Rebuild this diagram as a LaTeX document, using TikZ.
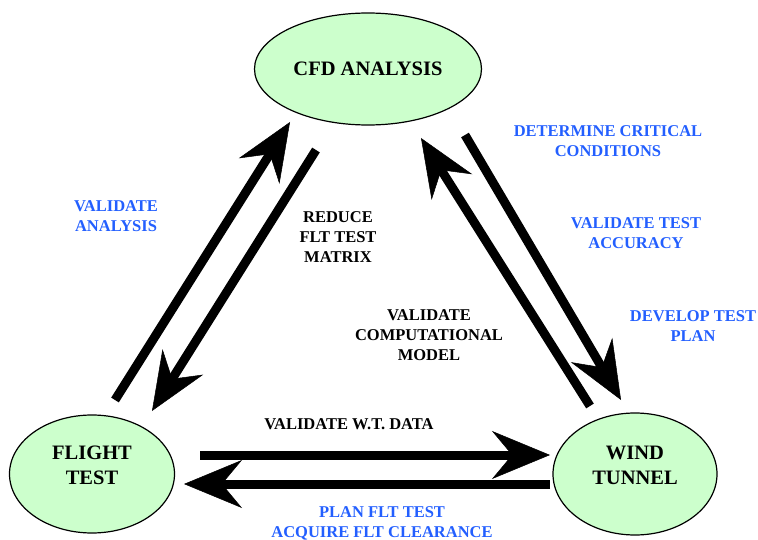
\documentclass[tikz,border=0pt]{standalone}
\usepackage{fontspec}
\setmainfont{Liberation Serif}
\usetikzlibrary{arrows.meta,shapes.geometric}
\definecolor{boxgreen}{RGB}{204,255,204}
\definecolor{noteblue}{RGB}{35,95,255}
\newcommand{\stationtext}[1]{\raisebox{7pt}[\height][\depth]{\begin{tabular}{@{}c@{}}#1\end{tabular}}}

\begin{document}
\begin{tikzpicture}[x=1pt,y=-1pt,
	loopbox/.style={ellipse,draw,line width=1.2pt,fill=boxgreen,inner sep=0pt,align=center,font=\fontsize{20.5}{25}\selectfont\bfseries},
	flow/.style={line width=9pt,-{Stealth[length=58pt,width=48pt,inset=20pt,line width=0.5pt]}},
	note/.style={align=center,font=\fontsize{16.5}{20}\selectfont\bfseries}]
	\useasboundingbox (0,0) rectangle (758,540);
	% the three stations
	\node[loopbox,minimum width=227pt,minimum height=112pt] at (368,69)(cfd){CFD ANALYSIS};
	\node[loopbox,minimum width=165pt,minimum height=118pt] at (92,474)(ft){\stationtext{FLIGHT\\TEST}};
	\node[loopbox,minimum width=164pt,minimum height=122pt] at (635,474)(wt){\stationtext{WIND\\TUNNEL}};
	% arrows between them
	\draw[flow] ([shift={(23,-74)}]ft.center) -- ([shift={(-78,53)}]cfd.center);
	\draw[flow] ([shift={(-52,81)}]cfd.center) -- ([shift={(60,-63)}]ft.center);
	\draw[flow] ([shift={(-45,-68)}]wt.center) -- ([shift={(53,69)}]cfd.center);
	\draw[flow] ([shift={(97,66)}]cfd.center) -- ([shift={(-14,-74)}]wt.center);
	\draw[flow] ([shift={(108,-19)}]ft.center) -- ([shift={(-85,-19)}]wt.center);
	\draw[flow] ([shift={(-85,10)}]wt.center) -- ([shift={(92,10)}]ft.center);
	% labels
	\node[note,text=noteblue] at (116,216)(valan){VALIDATE\\ANALYSIS};
	\node[note] at (338,237)(reduce){REDUCE\\FLT TEST\\MATRIX};
	\node[note] at (429,335)(valcomp){VALIDATE\\COMPUTATIONAL\\MODEL};
	\node[note,text=noteblue] at (608,141)(determ){DETERMINE CRITICAL\\CONDITIONS};
	\node[note,text=noteblue] at (636,233)(valacc){VALIDATE TEST\\ACCURACY};
	\node[note,text=noteblue] at (693,326)(develop){DEVELOP TEST\\PLAN};
	\node[note] at (349,424)(valwt){VALIDATE W.T. DATA};
	\node[note,text=noteblue] at (382,523)(plan){PLAN FLT TEST\\ACQUIRE FLT CLEARANCE};
\end{tikzpicture}
\end{document}
